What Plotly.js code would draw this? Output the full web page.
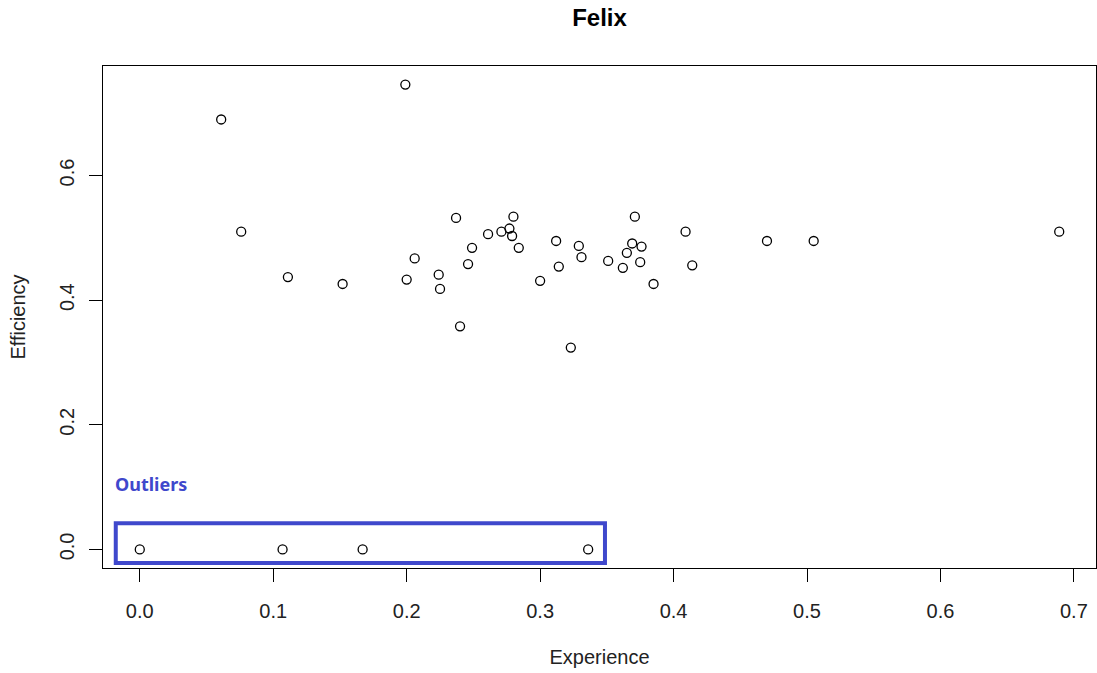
<!DOCTYPE html>
<html>
<head>
<meta charset="utf-8">
<script src="https://cdn.plot.ly/plotly-3.0.1.min.js"></script>
<style>html,body{margin:0;padding:0;background:#fff;}#chart{width:1097px;height:673px;}</style>
</head>
<body>
<div id="chart"></div>
<script>
// Experience (x) and Efficiency (y) values
const experience = [0.061, 0.199, 0.076, 0.111, 0.152, 0.200, 0.206, 0.224, 0.225, 0.237,
  0.240, 0.246, 0.249, 0.261, 0.271, 0.277, 0.279, 0.280, 0.284, 0.300,
  0.312, 0.314, 0.323, 0.329, 0.331, 0.351, 0.362, 0.365, 0.369, 0.371,
  0.375, 0.376, 0.385, 0.409, 0.414, 0.470, 0.505, 0.689,
  0.000, 0.107, 0.167, 0.336];
const efficiency = [0.690, 0.746, 0.510, 0.437, 0.426, 0.433, 0.467, 0.441, 0.418, 0.532,
  0.358, 0.458, 0.484, 0.506, 0.510, 0.515, 0.503, 0.534, 0.484, 0.431,
  0.495, 0.454, 0.324, 0.487, 0.469, 0.463, 0.452, 0.476, 0.491, 0.534,
  0.461, 0.486, 0.426, 0.510, 0.456, 0.495, 0.495, 0.510,
  0.000, 0.000, 0.000, 0.000];
const xTicks = [0, 0.1, 0.2, 0.3, 0.4, 0.5, 0.6, 0.7];
const xTickText = ['0.0', '0.1', '0.2', '0.3', '0.4', '0.5', '0.6', '0.7'];
const yTicks = [0, 0.2, 0.4, 0.6];
const yTickText = ['0.0', '0.2', '0.4', '0.6'];
const chartTitle = 'Felix';
const xLabel = 'Experience';
const yLabel = 'Efficiency';
const outlierLabel = 'Outliers';
// outlier highlight box extents (data units)
const boxX = [-0.018, 0.3486];
const boxY = [-0.022, 0.042];

function padRange(arr) {
  const mn = Math.min(...arr), mx = Math.max(...arr);
  const d = (mx - mn) * 0.04;
  return [mn - d, mx + d];
}

const FONT = 'Liberation Sans, Arial, sans-serif';
const BLUE = '#3f48cc';

const trace = {
  type: 'scatter',
  mode: 'markers',
  x: experience,
  y: efficiency,
  marker: {symbol: 'circle-open', size: 9, color: '#000', line: {width: 1.3, color: '#000'}},
  hoverinfo: 'x+y',
  showlegend: false
};

const axisCommon = {
  showgrid: false,
  zeroline: false,
  showline: true,
  mirror: true,
  linecolor: '#000',
  linewidth: 1,
  ticks: 'outside',
  ticklen: 13,
  tickwidth: 1,
  tickcolor: '#000',
  tickmode: 'array',
  tickfont: {family: FONT, size: 20, color: '#222'},
  automargin: false
};

const layout = {
  width: 1097,
  height: 673,
  paper_bgcolor: '#fff',
  plot_bgcolor: '#fff',
  margin: {l: 103, r: 1, t: 66, b: 105, pad: 0},
  title: {
    text: '<b>' + chartTitle + '</b>',
    font: {family: FONT, size: 24, color: '#000'},
    xref: 'paper', x: 0.5, xanchor: 'center',
    yref: 'container', y: 1 - 18 / 673, yanchor: 'middle'
  },
  xaxis: Object.assign({}, axisCommon, {
    range: padRange(experience),
    tickvals: xTicks,
    ticktext: xTickText,
    ticklabelstandoff: 12,
    title: {text: xLabel, font: {family: FONT, size: 20, color: '#222'}, standoff: 28}
  }),
  yaxis: Object.assign({}, axisCommon, {
    range: padRange(efficiency),
    tickvals: yTicks,
    ticktext: yTickText,
    tickangle: -90,
    ticklabelstandoff: 7,
    title: {text: yLabel, font: {family: FONT, size: 20, color: '#222'}, standoff: 25}
  }),
  shapes: [{
    type: 'rect', xref: 'x', yref: 'y',
    x0: boxX[0], x1: boxX[1], y0: boxY[0], y1: boxY[1],
    line: {color: BLUE, width: 4}, fillcolor: 'rgba(0,0,0,0)', layer: 'below'
  }],
  annotations: [{
    text: '<b>' + outlierLabel + '</b>',
    xref: 'x', yref: 'y', x: boxX[0] - 0.002, y: 0.105,
    xanchor: 'left', yanchor: 'middle', showarrow: false,
    font: {family: 'Noto Sans, sans-serif', size: 18, color: BLUE}
  }]
};

Plotly.newPlot('chart', [trace], layout, {displayModeBar: false, staticPlot: true});
</script>
</body>
</html>
